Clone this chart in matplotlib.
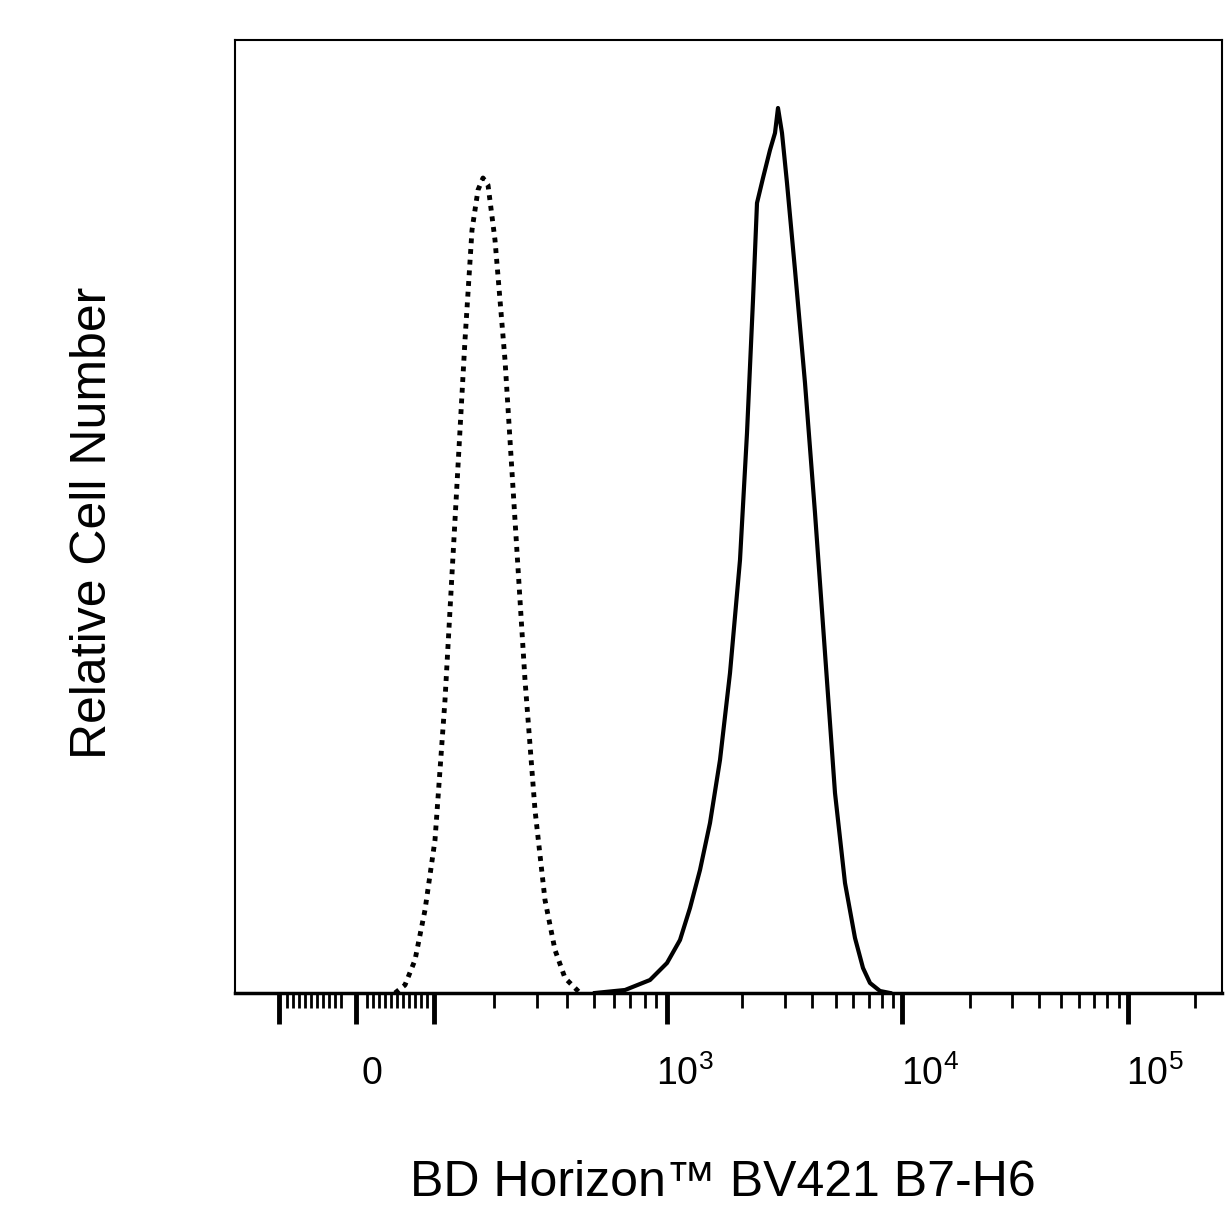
import numpy as np
import matplotlib.pyplot as plt

plt.rcParams["font.family"] = "Liberation Sans"
plt.rcParams["mathtext.fontset"] = "custom"
plt.rcParams["mathtext.rm"] = "Liberation Sans"

# x in display channels (0 = left edge of plot), y in relative counts
iso_x = [160, 170, 180, 190, 200, 210, 220, 230, 237, 243, 248, 253, 260, 270, 280, 290, 300, 310, 320, 330, 345]
iso_y = [0, 8, 33, 83, 153, 293, 473, 653, 763, 803, 815, 808, 753, 633, 473, 313, 183, 93, 43, 15, 0]

stain_x = [360, 390, 415, 432, 445, 455, 465, 475, 485, 495, 505, 512, 518, 522, 528, 535, 540, 543,
           547, 552, 560, 570, 580, 590, 600, 610, 620, 628, 635, 645, 655]
stain_y = [0, 3, 13, 30, 53, 85, 123, 170, 233, 320, 433, 560, 693, 790, 815, 843, 860, 885,
           860, 810, 723, 610, 480, 340, 200, 110, 55, 25, 10, 2, 0]

major_ticks = [44, 121, 199, 432, 667, 893]
minor_ticks = [259, 302, 332, 359, 379, 395, 410, 421,
               507, 550, 577, 601, 618, 634, 647, 658,
               735, 777, 804, 826, 844, 859, 872, 884, 960]
dense_ticks = list(np.arange(52, 112, 6)) + list(np.arange(132, 195, 6))
tick_labels = ["0", "$10^3$", "$10^4$", "$10^5$"]
label_pos = [137, 450, 695, 920]

fig = plt.figure(figsize=(12.3, 12.3), dpi=100)
ax = fig.add_axes([235/1230, 1 - 993/1230, 987/1230, 953/1230])
ax.plot(iso_x, iso_y, color="black", linestyle=(0, (1, 1.2)), linewidth=3.5)
ax.plot(stain_x, stain_y, color="black", linewidth=3)
ax.set_xlim(0, 987)
ax.set_ylim(0, 953)
ax.set_yticks([])
for s in ax.spines.values():
    s.set_linewidth(1.5)
ax.spines["bottom"].set_linewidth(2.5)

ax.set_xticks(major_ticks)
ax.set_xticklabels([])
ax.tick_params(axis="x", which="major", length=22, width=3.5, direction="out")
ax.set_xticks(minor_ticks + dense_ticks, minor=True)
ax.tick_params(axis="x", which="minor", length=11, width=2, direction="out")

for p, t in zip(label_pos, tick_labels):
    ax.text(p, -0.085 * 953, t, fontsize=27, ha="center", va="center")

fig.text(723/1230, 1 - 1183/1230, "BD Horizon\u2122 BV421 B7-H6", fontsize=36,
         ha="center", va="center")
fig.text(93/1230, 1 - 523/1230, "Relative Cell Number", fontsize=36, rotation=90,
         ha="center", va="center")

fig.savefig("out.png", dpi=100)
